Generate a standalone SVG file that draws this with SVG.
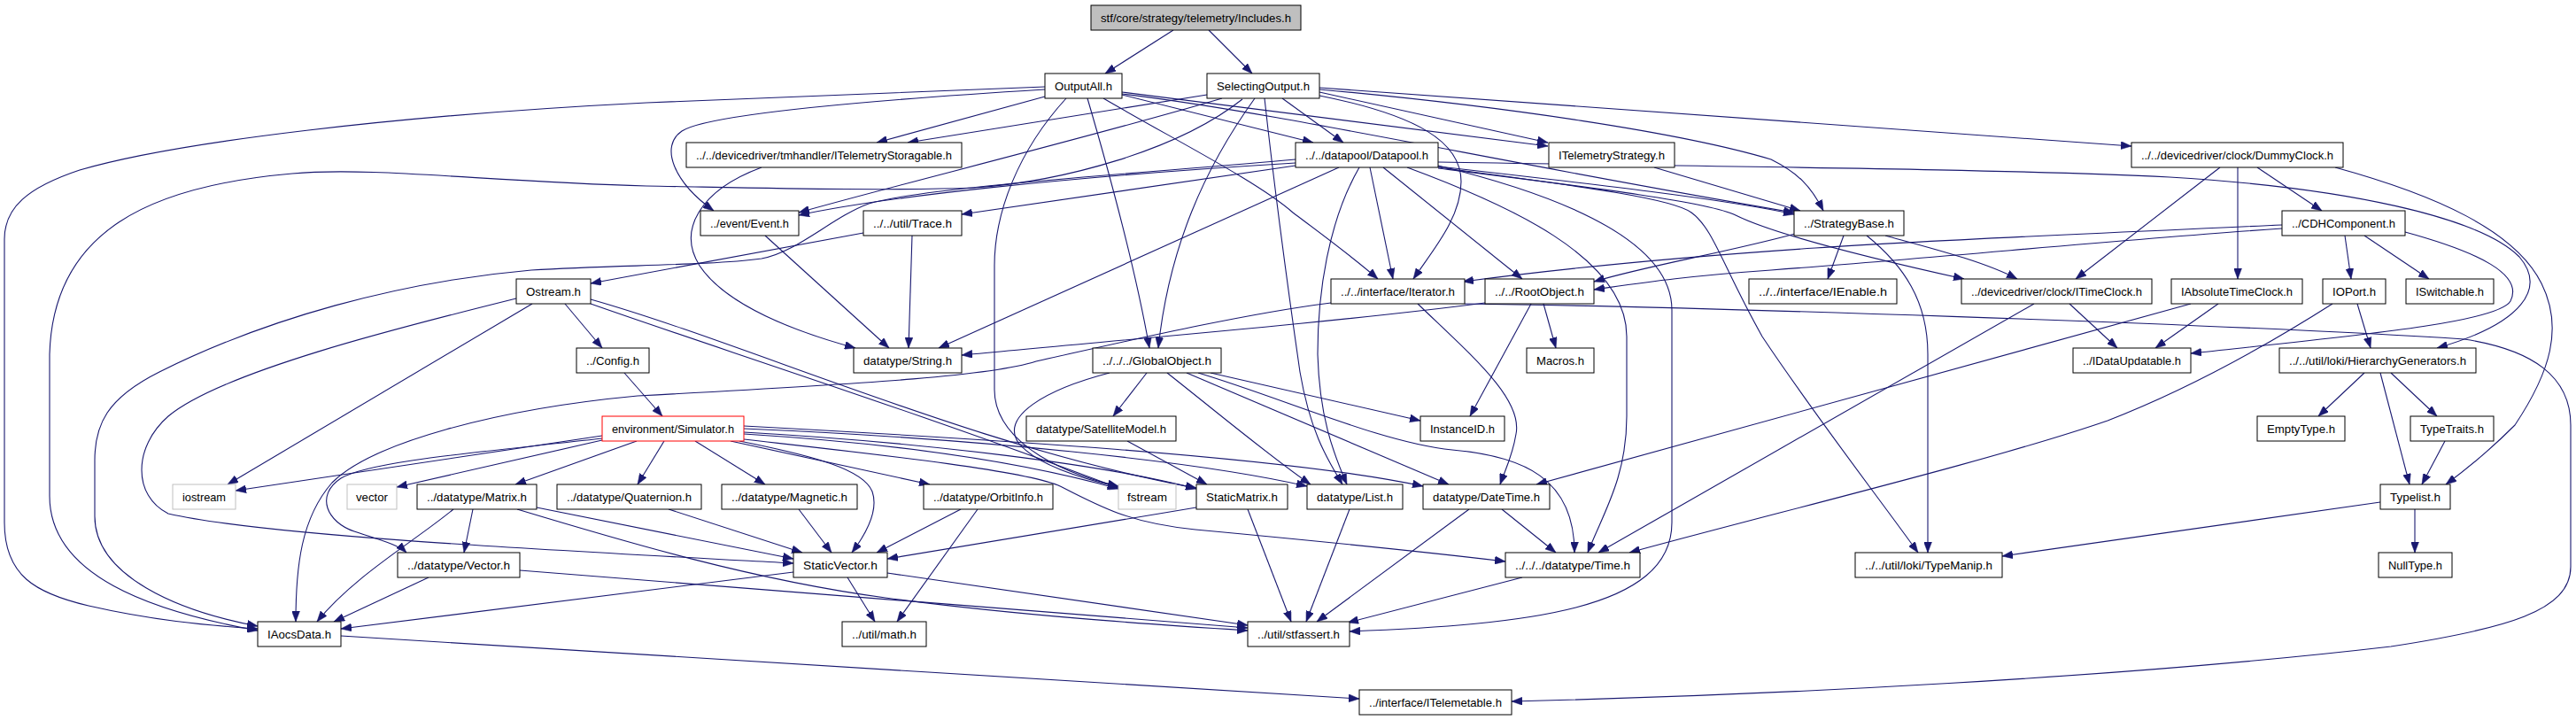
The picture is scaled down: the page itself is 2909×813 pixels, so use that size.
<svg xmlns="http://www.w3.org/2000/svg" width="2909" height="813" viewBox="0 0 2909 813">
<style>
.n rect{fill:#fff;stroke:#000;stroke-width:1}
.n.g rect{stroke:#bfbfbf}
.n.r rect{stroke:#ff0000}
.n.root rect{fill:#bfbfbf}
.n text{font-family:"Liberation Sans",Arial,sans-serif;font-size:13.5px;text-anchor:middle;fill:#000}
#edges path{fill:none;stroke:#191970;stroke-width:1.1;marker-end:url(#a)}
</style>
<defs>
<marker id="a" markerWidth="12" markerHeight="9" refX="12" refY="4.5" orient="auto" markerUnits="userSpaceOnUse"><path d="M0,0 L12,4.5 L0,9 z" fill="#191970" stroke="#191970" stroke-width="0.5"/></marker>
</defs>
<rect width="2909" height="813" fill="#fff"/>
<g id="edges">
<path d="M1325,34 L1248,83"/>
<path d="M1365,34 L1414,83"/>
<path d="M1180,98 C950,106 800,112 730,116 C450,130 200,160 90,192 C30,212 5,235 5,270 L5,590 C5,650 40,670 100,684 C170,700 230,706 291,710"/>
<path d="M1180,101 C1000,112 800,128 770,148 C745,165 760,205 806,238"/>
<path d="M1180,109 L990,161"/>
<path d="M1204,111 C1150,170 1123,240 1123,300 L1123,440 C1123,490 1180,530 1263,549"/>
<path d="M1228,111 C1260,220 1285,320 1298,393"/>
<path d="M1246,111 C1330,160 1420,205 1460,240 C1500,270 1530,292 1556,315"/>
<path d="M1267,107 L1483,161"/>
<path d="M1267,104 L1748,165"/>
<path d="M1267,106 C1450,128 1700,185 2026,240"/>
<path d="M1363,107 L1025,161"/>
<path d="M1380,111 C1250,150 1000,212 902,240"/>
<path d="M1403,112 C1330,170 1200,205 1100,212 C1000,216 850,212 730,210 C550,205 420,188 330,196 C170,210 60,260 56,400 L56,560 C56,650 170,690 291,712"/>
<path d="M1417,111 C1360,190 1320,280 1308,393"/>
<path d="M1428,111 C1440,220 1455,330 1468,420 C1480,490 1500,520 1516,547"/>
<path d="M1448,111 L1517,161"/>
<path d="M1490,104 L1748,161"/>
<path d="M1490,101 C1700,120 1900,150 2000,180 C2030,195 2045,210 2059,238"/>
<path d="M1490,99 L2407,165"/>
<path d="M1490,108 C1600,130 1650,160 1650,205 C1650,245 1620,280 1596,315"/>
<path d="M860,189 C790,215 765,260 790,300 C820,345 900,375 966,393"/>
<path d="M1463,184 C1200,200 1000,222 902,243"/>
<path d="M1463,180 C1300,195 1050,210 981,230 C940,245 900,285 860,292 C800,300 700,299 600,305 C450,318 300,360 180,420 C120,450 107,480 107,520 L107,583 C107,650 200,690 291,707"/>
<path d="M1463,187 L1086,242"/>
<path d="M1512,189 L1060,393"/>
<path d="M1535,189 C1500,250 1488,330 1488,400 C1490,470 1505,510 1521,547"/>
<path d="M1547,189 L1573,315"/>
<path d="M1562,189 L1719,315"/>
<path d="M1589,189 C1700,230 1837,290 1837,380 L1837,470 C1837,540 1810,580 1793,624"/>
<path d="M1624,187 C1760,220 1888,270 1888,350 L1888,590 C1888,690 1720,705 1524,713"/>
<path d="M1624,189 C1800,212 1890,225 1910,240 C1935,258 1945,300 1990,380 C2050,470 2120,560 2166,624"/>
<path d="M1624,190 C1800,212 1930,228 1960,243 C1990,258 2060,280 2218,315"/>
<path d="M1624,183 C1900,188 2250,190 2450,200 C2650,212 2800,245 2845,290 C2875,325 2850,365 2752,393"/>
<path d="M1624,188 C1800,208 1950,225 2026,242"/>
<path d="M1868,189 L2033,238"/>
<path d="M2507,189 L2344,315"/>
<path d="M2527,189 L2527,315"/>
<path d="M2549,189 L2622,238"/>
<path d="M2637,189 C2750,220 2840,260 2870,320 C2895,370 2880,420 2840,480 C2810,510 2785,530 2762,547"/>
<path d="M864,266 L1004,393"/>
<path d="M1030,266 L1026,393"/>
<path d="M975,263 L667,320"/>
<path d="M2082,266 L2064,315"/>
<path d="M2027,264 C1950,285 1860,300 1800,318"/>
<path d="M2129,266 C2180,280 2240,295 2278,315"/>
<path d="M2108,266 C2150,300 2177,340 2177,400 L2177,624"/>
<path d="M2648,266 L2655,315"/>
<path d="M2670,266 L2743,315"/>
<path d="M2716,262 C2800,285 2850,310 2835,340 C2820,365 2650,380 2474,399"/>
<path d="M2577,254 C2400,262 2200,270 2050,280 C1900,290 1750,305 1652,318"/>
<path d="M2577,258 C2400,270 2200,290 2000,305 C1900,312 1850,320 1800,327"/>
<path d="M638,343 L680,393"/>
<path d="M601,343 L257,547"/>
<path d="M583,337 C450,370 250,420 190,470 C150,505 150,560 190,580 C300,605 600,620 896,636"/>
<path d="M667,343 C800,390 1050,470 1263,551"/>
<path d="M667,338 C850,390 1100,505 1351,551"/>
<path d="M1601,343 C1660,400 1720,450 1712,490 C1708,515 1700,530 1694,547"/>
<path d="M1503,342 C1400,355 1260,388 1170,408 C1120,424 1000,432 720,447 C560,462 420,500 375,545 C340,585 334,640 334,702"/>
<path d="M1654,343 C1900,346 2500,365 2783,383 C2860,395 2903,425 2903,480 L2903,640 C2903,690 2830,710 2700,730 C2400,765 2000,785 1707,792"/>
<path d="M1677,342 C1500,365 1250,385 1086,401"/>
<path d="M1743,343 L1757,393"/>
<path d="M1729,343 L1660,470"/>
<path d="M2337,343 L2391,393"/>
<path d="M2297,343 L1805,624"/>
<path d="M2505,343 L2434,393"/>
<path d="M2474,343 L1735,547"/>
<path d="M2634,343 C2560,390 2470,440 2380,475 C2250,520 2000,580 1840,624"/>
<path d="M2662,343 L2677,393"/>
<path d="M705,421 L748,470"/>
<path d="M1295,421 L1257,470"/>
<path d="M1253,421 C1180,440 1130,470 1150,500 C1170,525 1220,540 1263,550"/>
<path d="M1318,421 C1380,470 1440,520 1480,547"/>
<path d="M1340,421 L1636,547"/>
<path d="M1353,421 C1450,450 1560,500 1640,508 C1720,515 1778,540 1778,624"/>
<path d="M1367,421 L1604,475"/>
<path d="M2670,421 L2618,470"/>
<path d="M2688,421 L2721,547"/>
<path d="M2700,421 L2752,470"/>
<path d="M680,492 L266,554"/>
<path d="M680,497 L448,550"/>
<path d="M680,495 C550,510 420,520 385,540 C355,560 370,590 400,600 C430,610 450,615 459,624"/>
<path d="M719,498 L582,547"/>
<path d="M750,498 L720,547"/>
<path d="M785,498 L864,547"/>
<path d="M835,498 C920,515 975,530 985,555 C992,575 980,600 962,624"/>
<path d="M825,498 L1050,547"/>
<path d="M840,490 C1000,500 1150,520 1263,552"/>
<path d="M840,488 C1050,500 1250,525 1351,552"/>
<path d="M840,484 C1100,495 1350,520 1476,549"/>
<path d="M840,481 C1100,495 1450,515 1607,549"/>
<path d="M840,496 C980,512 1150,530 1195,548 C1240,570 1270,590 1350,598 C1500,612 1600,622 1700,634"/>
<path d="M1273,498 L1363,547"/>
<path d="M2761,498 L2735,547"/>
<path d="M512,575 C470,610 400,650 358,702"/>
<path d="M534,575 L524,624"/>
<path d="M606,573 L896,631"/>
<path d="M584,575 C700,610 850,655 1000,675 C1150,695 1300,705 1409,712"/>
<path d="M755,575 L906,624"/>
<path d="M902,575 L939,624"/>
<path d="M1085,575 L990,624"/>
<path d="M1104,575 L1013,702"/>
<path d="M1351,573 L1002,631"/>
<path d="M1409,575 L1458,702"/>
<path d="M1524,575 L1475,702"/>
<path d="M1659,575 L1487,702"/>
<path d="M1696,575 L1757,624"/>
<path d="M2688,567 L2261,628"/>
<path d="M2727,575 L2727,624"/>
<path d="M484,652 L377,702"/>
<path d="M587,644 L1409,709"/>
<path d="M957,652 L988,702"/>
<path d="M1002,647 L1409,706"/>
<path d="M896,646 L385,710"/>
<path d="M1719,652 L1522,703"/>
<path d="M385,718 C800,742 1200,770 1535,789"/>
</g>
<g id="n_root" class="n root"><rect x="1232" y="6" width="237" height="28"/><text x="1350.5" y="25" textLength="215" lengthAdjust="spacingAndGlyphs">stf/core/strategy/telemetry/Includes.h</text></g>
<g id="n_outputall" class="n"><rect x="1180" y="83" width="87" height="28"/><text x="1223.5" y="102" textLength="65" lengthAdjust="spacingAndGlyphs">OutputAll.h</text></g>
<g id="n_selecting" class="n"><rect x="1363" y="83" width="127" height="28"/><text x="1426.5" y="102" textLength="105" lengthAdjust="spacingAndGlyphs">SelectingOutput.h</text></g>
<g id="n_tmstor" class="n"><rect x="775" y="161" width="311" height="28"/><text x="930.5" y="180" textLength="289" lengthAdjust="spacingAndGlyphs">../../devicedriver/tmhandler/ITelemetryStoragable.h</text></g>
<g id="n_datapool" class="n"><rect x="1463" y="161" width="161" height="28"/><text x="1543.5" y="180" textLength="139" lengthAdjust="spacingAndGlyphs">../../datapool/Datapool.h</text></g>
<g id="n_tstrategy" class="n"><rect x="1749" y="161" width="142" height="28"/><text x="1820" y="180" textLength="120" lengthAdjust="spacingAndGlyphs">ITelemetryStrategy.h</text></g>
<g id="n_dummyclock" class="n"><rect x="2407" y="161" width="239" height="28"/><text x="2526.5" y="180" textLength="217" lengthAdjust="spacingAndGlyphs">../../devicedriver/clock/DummyClock.h</text></g>
<g id="n_event" class="n"><rect x="791" y="238" width="111" height="28"/><text x="846.5" y="257" textLength="89" lengthAdjust="spacingAndGlyphs">../event/Event.h</text></g>
<g id="n_trace" class="n"><rect x="975" y="238" width="111" height="28"/><text x="1030.5" y="257" textLength="89" lengthAdjust="spacingAndGlyphs">../../util/Trace.h</text></g>
<g id="n_strategybase" class="n"><rect x="2026" y="238" width="124" height="28"/><text x="2088" y="257" textLength="102" lengthAdjust="spacingAndGlyphs">../StrategyBase.h</text></g>
<g id="n_cdh" class="n"><rect x="2577" y="238" width="139" height="28"/><text x="2646.5" y="257" textLength="117" lengthAdjust="spacingAndGlyphs">../CDHComponent.h</text></g>
<g id="n_ostream" class="n"><rect x="583" y="315" width="84" height="28"/><text x="625" y="334" textLength="62" lengthAdjust="spacingAndGlyphs">Ostream.h</text></g>
<g id="n_iterator" class="n"><rect x="1503" y="315" width="151" height="28"/><text x="1578.5" y="334" textLength="129" lengthAdjust="spacingAndGlyphs">../../interface/Iterator.h</text></g>
<g id="n_rootobject" class="n"><rect x="1677" y="315" width="123" height="28"/><text x="1738.5" y="334" textLength="101" lengthAdjust="spacingAndGlyphs">../../RootObject.h</text></g>
<g id="n_ienable" class="n"><rect x="1975" y="315" width="167" height="28"/><text x="2058.5" y="334" textLength="145" lengthAdjust="spacingAndGlyphs">../../interface/IEnable.h</text></g>
<g id="n_itimeclock" class="n"><rect x="2215" y="315" width="215" height="28"/><text x="2322.5" y="334" textLength="193" lengthAdjust="spacingAndGlyphs">../devicedriver/clock/ITimeClock.h</text></g>
<g id="n_iabstime" class="n"><rect x="2452" y="315" width="148" height="28"/><text x="2526" y="334" textLength="126" lengthAdjust="spacingAndGlyphs">IAbsoluteTimeClock.h</text></g>
<g id="n_ioport" class="n"><rect x="2623" y="315" width="71" height="28"/><text x="2658.5" y="334" textLength="49" lengthAdjust="spacingAndGlyphs">IOPort.h</text></g>
<g id="n_iswitchable" class="n"><rect x="2717" y="315" width="99" height="28"/><text x="2766.5" y="334" textLength="77" lengthAdjust="spacingAndGlyphs">ISwitchable.h</text></g>
<g id="n_config" class="n"><rect x="651" y="393" width="82" height="28"/><text x="692" y="412" textLength="60" lengthAdjust="spacingAndGlyphs">../Config.h</text></g>
<g id="n_string" class="n"><rect x="964" y="393" width="122" height="28"/><text x="1025" y="412" textLength="100" lengthAdjust="spacingAndGlyphs">datatype/String.h</text></g>
<g id="n_globalobject" class="n"><rect x="1234" y="393" width="145" height="28"/><text x="1306.5" y="412" textLength="123" lengthAdjust="spacingAndGlyphs">../../../GlobalObject.h</text></g>
<g id="n_macros" class="n"><rect x="1724" y="393" width="76" height="28"/><text x="1762" y="412" textLength="54" lengthAdjust="spacingAndGlyphs">Macros.h</text></g>
<g id="n_idataupd" class="n"><rect x="2341" y="393" width="133" height="28"/><text x="2407.5" y="412" textLength="111" lengthAdjust="spacingAndGlyphs">../IDataUpdatable.h</text></g>
<g id="n_hiergen" class="n"><rect x="2574" y="393" width="222" height="28"/><text x="2685" y="412" textLength="200" lengthAdjust="spacingAndGlyphs">../../util/loki/HierarchyGenerators.h</text></g>
<g id="n_simulator" class="n r"><rect x="680" y="470" width="160" height="28"/><text x="760" y="489" textLength="138" lengthAdjust="spacingAndGlyphs">environment/Simulator.h</text></g>
<g id="n_satmodel" class="n"><rect x="1159" y="470" width="169" height="28"/><text x="1243.5" y="489" textLength="147" lengthAdjust="spacingAndGlyphs">datatype/SatelliteModel.h</text></g>
<g id="n_instanceid" class="n"><rect x="1604" y="470" width="95" height="28"/><text x="1651.5" y="489" textLength="73" lengthAdjust="spacingAndGlyphs">InstanceID.h</text></g>
<g id="n_emptytype" class="n"><rect x="2549" y="470" width="99" height="28"/><text x="2598.5" y="489" textLength="77" lengthAdjust="spacingAndGlyphs">EmptyType.h</text></g>
<g id="n_typetraits" class="n"><rect x="2722" y="470" width="94" height="28"/><text x="2769" y="489" textLength="72" lengthAdjust="spacingAndGlyphs">TypeTraits.h</text></g>
<g id="n_iostream" class="n g"><rect x="195" y="547" width="71" height="28"/><text x="230.5" y="566" textLength="49" lengthAdjust="spacingAndGlyphs">iostream</text></g>
<g id="n_vector" class="n g"><rect x="392" y="547" width="56" height="28"/><text x="420" y="566" textLength="36" lengthAdjust="spacingAndGlyphs">vector</text></g>
<g id="n_matrix" class="n"><rect x="471" y="547" width="135" height="28"/><text x="538.5" y="566" textLength="113" lengthAdjust="spacingAndGlyphs">../datatype/Matrix.h</text></g>
<g id="n_quaternion" class="n"><rect x="629" y="547" width="163" height="28"/><text x="710.5" y="566" textLength="141" lengthAdjust="spacingAndGlyphs">../datatype/Quaternion.h</text></g>
<g id="n_magnetic" class="n"><rect x="815" y="547" width="153" height="28"/><text x="891.5" y="566" textLength="131" lengthAdjust="spacingAndGlyphs">../datatype/Magnetic.h</text></g>
<g id="n_orbitinfo" class="n"><rect x="1043" y="547" width="146" height="28"/><text x="1116" y="566" textLength="124" lengthAdjust="spacingAndGlyphs">../datatype/OrbitInfo.h</text></g>
<g id="n_fstream" class="n g"><rect x="1263" y="547" width="65" height="28"/><text x="1295.5" y="566" textLength="45" lengthAdjust="spacingAndGlyphs">fstream</text></g>
<g id="n_staticmatrix" class="n"><rect x="1351" y="547" width="103" height="28"/><text x="1402.5" y="566" textLength="81" lengthAdjust="spacingAndGlyphs">StaticMatrix.h</text></g>
<g id="n_list" class="n"><rect x="1476" y="547" width="108" height="28"/><text x="1530" y="566" textLength="86" lengthAdjust="spacingAndGlyphs">datatype/List.h</text></g>
<g id="n_datetime" class="n"><rect x="1607" y="547" width="143" height="28"/><text x="1678.5" y="566" textLength="121" lengthAdjust="spacingAndGlyphs">datatype/DateTime.h</text></g>
<g id="n_typelist" class="n"><rect x="2688" y="547" width="79" height="28"/><text x="2727.5" y="566" textLength="57" lengthAdjust="spacingAndGlyphs">Typelist.h</text></g>
<g id="n_vectorh" class="n"><rect x="449" y="624" width="138" height="28"/><text x="518" y="643" textLength="116" lengthAdjust="spacingAndGlyphs">../datatype/Vector.h</text></g>
<g id="n_staticvector" class="n"><rect x="896" y="624" width="106" height="28"/><text x="949" y="643" textLength="84" lengthAdjust="spacingAndGlyphs">StaticVector.h</text></g>
<g id="n_time" class="n"><rect x="1700" y="624" width="152" height="28"/><text x="1776" y="643" textLength="130" lengthAdjust="spacingAndGlyphs">../../../datatype/Time.h</text></g>
<g id="n_typemanip" class="n"><rect x="2095" y="624" width="166" height="28"/><text x="2178" y="643" textLength="144" lengthAdjust="spacingAndGlyphs">../../util/loki/TypeManip.h</text></g>
<g id="n_nulltype" class="n"><rect x="2686" y="624" width="83" height="28"/><text x="2727.5" y="643" textLength="61" lengthAdjust="spacingAndGlyphs">NullType.h</text></g>
<g id="n_iaocsdata" class="n"><rect x="291" y="702" width="94" height="28"/><text x="338" y="721" textLength="72" lengthAdjust="spacingAndGlyphs">IAocsData.h</text></g>
<g id="n_math" class="n"><rect x="951" y="702" width="95" height="28"/><text x="998.5" y="721" textLength="73" lengthAdjust="spacingAndGlyphs">../util/math.h</text></g>
<g id="n_stfassert" class="n"><rect x="1409" y="702" width="115" height="28"/><text x="1466.5" y="721" textLength="93" lengthAdjust="spacingAndGlyphs">../util/stfassert.h</text></g>
<g id="n_itelemetable" class="n"><rect x="1535" y="779" width="172" height="28"/><text x="1621" y="798" textLength="150" lengthAdjust="spacingAndGlyphs">../interface/ITelemetable.h</text></g>
</svg>
